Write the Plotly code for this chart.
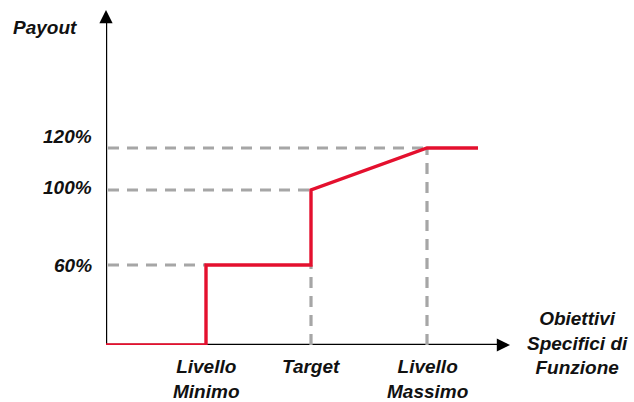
import plotly.graph_objects as go

# Schematic chart data (axis is conceptual, not linear in payout)
threshold_labels = ["Livello<br>Minimo", "Target", "Livello<br>Massimo"]
threshold_x = [100, 205, 321]          # schematic position of thresholds on the x axis
curve_end_x = 372                      # where the payout curve stops (flat after max)
payout_labels = ["60%", "100%", "120%"]
payout_y = [80, 155, 197]              # schematic heights of the payout levels
axis_x_end = 404
axis_y_end = 335

RED = "#E4102E"
GRAY = "#A6A6A6"
FONT = dict(family="Liberation Sans, Arial, sans-serif", size=19, color="#111111",
            weight="bold", style="italic")

fig = go.Figure()

# Axis lines (under the curve)
fig.add_trace(go.Scatter(x=[0, axis_x_end - 6], y=[0, 0], mode="lines",
                         line=dict(color="black", width=2.4), hoverinfo="skip",
                         showlegend=False))
fig.add_trace(go.Scatter(x=[0, 0], y=[0, axis_y_end - 6], mode="lines",
                         line=dict(color="black", width=2.4), hoverinfo="skip",
                         showlegend=False))

# Dashed guide lines (horizontal to each level, vertical at Target and Livello Massimo)
x_min, x_tgt, x_max = threshold_x
y60, y100, y120 = payout_y
guides = [
    ([2, x_min], [y60, y60]),
    ([2, x_tgt], [y100, y100]),
    ([2, x_max], [y120, y120]),
    ([x_tgt, x_tgt], [0, y60]),
    ([x_max, x_max], [0, y120]),
]
for gx, gy in guides:
    fig.add_trace(go.Scatter(x=gx, y=gy, mode="lines",
                             line=dict(color=GRAY, width=3.2, dash="11px,8px"),
                             hoverinfo="skip", showlegend=False))

# Payout curve
curve_x = [0, x_min, x_min, x_tgt, x_tgt, x_max, curve_end_x]
curve_y = [0, 0, y60, y60, y100, y120, y120]
fig.add_trace(go.Scatter(x=curve_x, y=curve_y, mode="lines",
                         line=dict(color=RED, width=3.4), hoverinfo="skip",
                         showlegend=False))

annotations = []
# Arrowheads of the axes
annotations.append(dict(x=axis_x_end, y=0, ax=axis_x_end - 10, ay=0, xref="x", yref="y",
                        axref="x", ayref="y", text="", showarrow=True,
                        arrowhead=2, arrowsize=1.1, arrowwidth=2.4, arrowcolor="black"))
annotations.append(dict(x=0, y=axis_y_end, ax=0, ay=axis_y_end - 10, xref="x", yref="y",
                        axref="x", ayref="y", text="", showarrow=True,
                        arrowhead=2, arrowsize=1.1, arrowwidth=2.4, arrowcolor="black"))

# Threshold labels below the x axis
for lab, xv in zip(threshold_labels, threshold_x):
    annotations.append(dict(x=xv, y=0, xref="x", yref="y", text=lab, showarrow=False,
                            xanchor="center", yanchor="top", yshift=-9, font=FONT,
                            align="center"))

# Payout level labels
label_shift = [0, 3, 12]
for lab, yv, sh in zip(payout_labels, payout_y, label_shift):
    annotations.append(dict(x=0, y=yv, xref="x", yref="y", text=lab, showarrow=False,
                            xanchor="right", yanchor="middle", xshift=-12, yshift=sh,
                            font=FONT))

# Axis titles
annotations.append(dict(x=0, y=318, xref="x", yref="y", text="Payout", showarrow=False,
                        xanchor="center", yanchor="middle", xshift=-61, font=FONT))
annotations.append(dict(x=471, y=2, xref="x", yref="y",
                        text="Obiettivi<br>Specifici di<br>Funzione", showarrow=False,
                        xanchor="center", yanchor="middle", font=FONT, align="center"))

fig.update_layout(
    width=634, height=402,
    margin=dict(l=106, r=0, t=5, b=57),
    paper_bgcolor="white", plot_bgcolor="white",
    xaxis=dict(range=[0, 528], visible=False, fixedrange=True),
    yaxis=dict(range=[0, 340], visible=False, fixedrange=True),
    annotations=annotations,
    showlegend=False,
)

fig.write_html("out.html")
